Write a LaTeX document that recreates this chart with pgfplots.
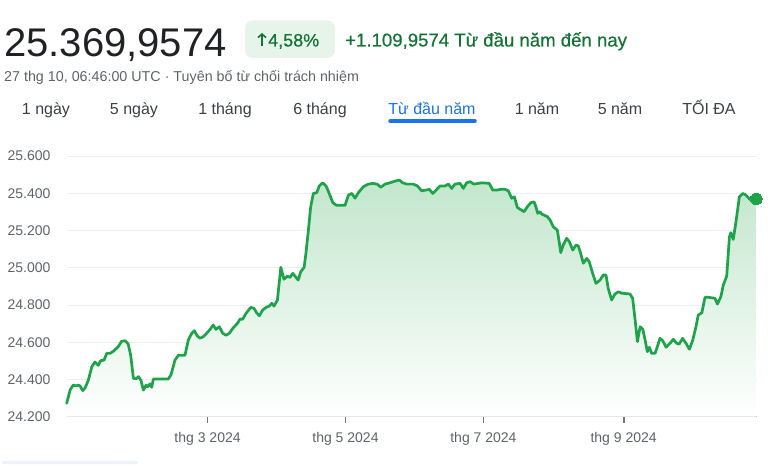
\documentclass[border=0pt]{standalone}
\usepackage{fontspec}
\setmainfont{Liberation Sans}
\newfontfamily\medfont[FakeBold=0.5]{Liberation Sans}
\usepackage{pgfplots}
\pgfplotsset{compat=1.18}
\usepackage{pgfplotstable}
\usetikzlibrary{arrows.meta}

\definecolor{linegreen}{HTML}{1EA34A}
\definecolor{fillgreen}{HTML}{C2E6CC}
\definecolor{txtgreen}{HTML}{137333}
\definecolor{badge}{HTML}{E6F4EA}
\definecolor{gtext}{HTML}{5F6368}
\definecolor{dtext}{HTML}{202124}
\definecolor{tabtext}{HTML}{3C4043}
\definecolor{gblue}{HTML}{1A73E8}
\definecolor{gridc}{HTML}{EEEEEE}
\definecolor{axisc}{HTML}{BDBDBD}
\definecolor{tickc}{HTML}{757575}
\definecolor{faintblue}{HTML}{EEF2F8}

% first and last rows close the filled area down to the baseline 24200
\pgfplotstableread{
d v
-2.3 24200
-2.3 24272
-0.8 24343
0.6 24370
1.8 24365
2.8 24370
3.6 24365
4.8 24340
5.8 24354
7.3 24397
8.8 24468
10.2 24494
11.7 24476
12.7 24501
14.2 24504
15.4 24540
16.9 24540
18.6 24554
20.5 24576
22.0 24605
23.5 24608
24.9 24590
26.0 24531
27.2 24406
28.4 24404
29.5 24415
30.6 24393
31.6 24343
32.8 24369
33.5 24361
34.5 24376
35.3 24358
36.0 24402
42.6 24402
43.8 24424
45.6 24504
47.1 24530
50.0 24530
51.5 24612
53.0 24648
54.1 24662
55.5 24633
56.7 24621
58.1 24630
59.6 24648
61.1 24669
62.5 24692
63.7 24669
65.2 24683
66.7 24648
68.2 24637
69.6 24648
71.4 24678
73.2 24701
74.4 24725
75.5 24723
77.0 24755
79.1 24787
80.5 24782
81.7 24758
82.9 24742
84.4 24773
85.9 24787
87.3 24794
88.4 24809
89.4 24794
90.9 24827
92.4 25002
93.8 24938
95.3 24955
96.5 24948
97.7 24970
99.1 24948
100.1 24934
101.2 24978
102.7 25002
103.5 25077
104.6 25202
105.6 25327
106.8 25399
108.3 25403
109.4 25439
110.9 25456
112.4 25439
113.8 25399
115.4 25349
117.1 25335
120.8 25335
122.3 25390
123.8 25399
125.2 25373
126.7 25403
128.9 25435
131.1 25449
133.3 25453
135.1 25448
136.6 25432
138.5 25449
140.7 25456
142.9 25465
144.8 25471
146.3 25456
148.1 25449
151.0 25449
152.8 25439
154.7 25413
156.6 25417
158.1 25421
159.6 25399
161.4 25421
162.8 25439
165.0 25439
166.5 25449
168.0 25426
169.4 25449
171.7 25453
173.1 25426
174.6 25456
176.1 25462
177.8 25449
179.7 25453
181.3 25456
184.6 25453
186.1 25417
187.9 25417
189.7 25421
191.6 25421
193.0 25413
194.5 25373
195.7 25381
197.0 25324
198.2 25314
200.0 25301
201.4 25327
202.9 25349
204.4 25354
205.3 25324
206.0 25292
207.0 25301
207.8 25288
208.8 25283
210.3 25274
211.5 25256
212.9 25220
214.7 25202
215.6 25131
216.2 25081
217.3 25122
218.8 25158
220.0 25140
221.5 25095
223.0 25122
224.0 25116
225.0 25077
226.2 25024
227.7 25050
228.8 25032
230.3 24970
231.8 24916
233.6 24934
235.0 24961
236.2 24961
237.2 24889
238.7 24827
240.2 24859
241.7 24871
243.2 24863
246.8 24859
248.0 24836
249.1 24719
250.1 24603
251.3 24683
252.5 24669
253.5 24612
254.5 24549
255.4 24573
256.4 24540
257.9 24540
258.9 24576
260.1 24621
261.3 24608
262.8 24573
264.5 24594
266.0 24616
267.5 24594
268.6 24590
270.1 24621
271.6 24594
273.1 24562
274.6 24612
276.0 24683
277.0 24746
278.6 24758
280.0 24841
281.5 24841
284.4 24836
285.5 24805
287.0 24844
288.1 24907
289.6 24955
290.8 25166
291.4 25188
292.5 25152
293.7 25247
295.2 25381
296.7 25399
298.1 25390
299.9 25367
301.1 25363
302.7 25370
302.7 24200
}\ratedata

\begin{document}
\begin{tikzpicture}
\path[use as bounding box, fill=white] (0pt,0pt) rectangle (768pt,464pt);

% header
\node[anchor=base west, inner sep=0pt, text=dtext] at (4pt,407.3pt) {\fontsize{40}{40}\selectfont 25.369,9574};
\fill[badge, rounded corners=8pt] (245pt,406pt) rectangle (335pt,443.5pt);
\draw[txtgreen, line width=1.6pt, -{Straight Barb[length=3.5pt,width=8pt]}] (262pt,417.5pt) -- (262pt,431pt);
\node[anchor=base west, inner sep=0pt, text=txtgreen] at (268pt,417.5pt) {\fontsize{18}{18}\selectfont\medfont 4,58\%};
\node[anchor=base west, inner sep=0pt, text=txtgreen] at (345pt,417.5pt) {\fontsize{18.6}{18.6}\selectfont\medfont +1.109,9574 Từ đầu năm đến nay};
\node[anchor=base west, inner sep=0pt, text=gtext] at (4pt,382pt) {\fontsize{14.3}{14.3}\selectfont 27 thg 10, 06:46:00 UTC · Tuyên bố từ chối trách nhiệm};

% tabs
\begin{scope}[every node/.style={anchor=base, inner sep=0pt, font=\fontsize{16}{16}\selectfont, text=tabtext}]
\node at (46pt,349pt) {1 ngày};
\node at (134pt,349pt) {5 ngày};
\node at (225pt,349pt) {1 tháng};
\node at (320pt,349pt) {6 tháng};
\node[text=gblue] at (432pt,349pt) {Từ đầu năm};
\node at (537pt,349pt) {1 năm};
\node at (620pt,349pt) {5 năm};
\node at (709pt,349pt) {TỐI ĐA};
\end{scope}
\draw[gblue, line width=3.5pt, line cap=round] (390pt,343pt) -- (475pt,343pt);
\fill[faintblue, rounded corners=2pt] (2pt,0pt) rectangle (138pt,3pt);

\begin{axis}[
  at={(66.7pt,47.3pt)}, anchor=south west,
  scale only axis, width=690.3pt, height=260.7pt,
  xmin=-2.3, xmax=303.0, ymin=24200, ymax=25600,
  clip=false,
  scaled y ticks=false, scaled x ticks=false,
  axis x line*=bottom, axis y line*=left,
  x axis line style={draw=axisc, line width=1.3pt, -},
  y axis line style={draw=none},
  ymajorgrids, major grid style={draw=gridc, line width=0.9pt},
  ytick={24200,24400,24600,24800,25000,25200,25400,25600},
  yticklabels={24.200,24.400,24.600,24.800,25.000,25.200,25.400,25.600},
  ytick style={draw=none},
  yticklabel style={font=\fontsize{14}{14}\selectfont, text=gtext, anchor=east, inner sep=0pt, xshift=-10pt},
  xtick={60,121,182,244},
  xticklabels={thg 3 2024, thg 5 2024, thg 7 2024, thg 9 2024},
  tick align=outside, major tick length=6pt,
  xtick style={draw=tickc, line width=1.8pt},
  xticklabel style={font=\fontsize{14}{14}\selectfont, text=gtext, anchor=north, inner sep=0pt, yshift=-9pt},
]
\addplot[draw=none, top color=fillgreen, bottom color=white] table[x=d, y=v] {\ratedata};
\addplot[linegreen, line width=2.7pt, line join=round, line cap=round, restrict y to domain=24250:25600] table[x=d, y=v] {\ratedata};
\addplot[only marks, mark=*, mark size=5.8pt, mark options={fill=linegreen, draw=linegreen, line width=0pt}] coordinates {(302.7,25370)};
\end{axis}
\end{tikzpicture}
\end{document}
